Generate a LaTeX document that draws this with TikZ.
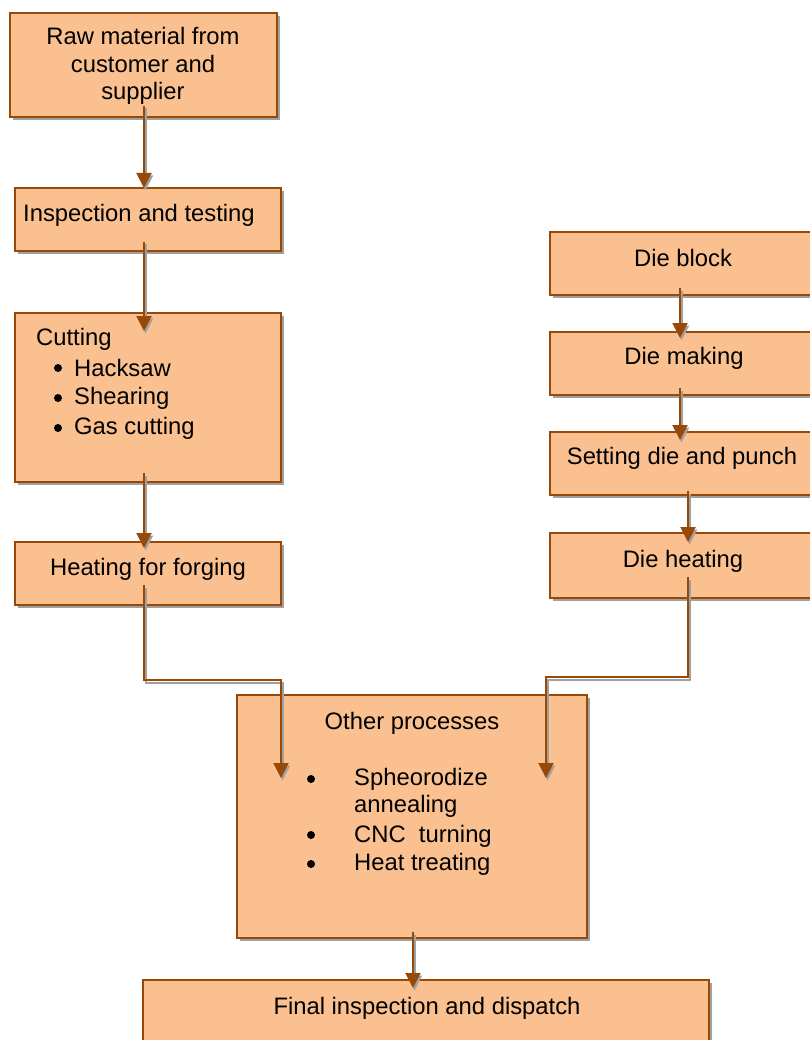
\documentclass[tikz,border=0pt]{standalone}
\usepackage{fontspec}
\setmainfont{Liberation Sans}
\usetikzlibrary{arrows.meta,shadows}
\definecolor{boxfill}{RGB}{250,192,143}
\definecolor{boxline}{RGB}{152,72,7}
\definecolor{shadowgray}{RGB}{160,160,160}
\tikzset{
  txt/.style={font=\fontsize{23.8}{27.4}\selectfont, inner sep=0pt},
  bul/.style={circle, fill=black, minimum size=8pt, inner sep=0pt},
  procbox/.style={draw=boxline, line width=2pt, fill=boxfill,
    drop shadow={shadow xshift=3pt, shadow yshift=-3pt, fill=shadowgray, opacity=1}},
  conn/.style={draw=boxline, line width=2pt,
    -{Triangle[length=15pt,width=15pt]},
    preaction={draw=shadowgray, line width=2pt, transform canvas={shift={(1.5pt,-2.5pt)}}}},
}
\begin{document}
\begin{tikzpicture}[x=1pt,y=-1pt]
\useasboundingbox (0,0) rectangle (809,1040);
% boxes (left column)
\path[procbox] (10,13) rectangle (277,117);
\path[procbox] (15,188) rectangle (281,251);
\path[procbox] (15,313) rectangle (281,482);
\path[procbox] (15,542) rectangle (281,605);
% right column
\path[procbox] (550,232) rectangle (815,295);
\path[procbox] (550,332) rectangle (815,395);
\path[procbox] (550,432) rectangle (815,495);
\path[procbox] (550,533) rectangle (815,598);
% other and final
\path[procbox] (237,695) rectangle (587,938);
\path[procbox] (143,980) rectangle (709,1060);

% texts
\node[txt, align=center] (rawt) at (143,66) {Raw material from\\customer and\\supplier};
\node[txt, anchor=west] (inspt) at (23,215) {Inspection and testing};
\node[txt, anchor=west] (cutt) at (36,339) {Cutting};
\node[bul] (cb1) at (58,368) {};
\node[bul] (cb2) at (58,398) {};
\node[bul] (cb3) at (58,428) {};
\node[txt, anchor=west] (ci1) at (74,368) {Hacksaw};
\node[txt, anchor=west] (ci2) at (74,398) {Shearing};
\node[txt, anchor=west] (ci3) at (74,428) {Gas cutting};
\node[txt] (heatt) at (148,569) {Heating for forging};
\node[txt] (dbt) at (683,258) {Die block};
\node[txt] (dmt) at (684,358) {Die making};
\node[txt] (sdt) at (682,458) {Setting die and punch};
\node[txt] (dht) at (683,561) {Die heating};
\node[txt] (opt) at (412,723) {Other processes};
\node[bul] (ob1) at (311,779) {};
\node[bul] (ob2) at (311,835) {};
\node[bul] (ob3) at (311,864) {};
\node[txt, anchor=west] (oi1) at (354,779) {Spheorodize};
\node[txt, anchor=west] (oi1b) at (354,806) {annealing};
\node[txt, anchor=west] (oi2) at (354,836) {CNC\ \ turning};
\node[txt, anchor=west] (oi3) at (354,864) {Heat treating};
\node[txt] (fint) at (427,1008) {Final inspection and dispatch};

% connector coordinates
\coordinate (a1s) at (144,106);  \coordinate (a1e) at (144,188);
\coordinate (a2s) at (144,242);  \coordinate (a2e) at (144,331);
\coordinate (a3s) at (144,473);  \coordinate (a3e) at (144,548);
\coordinate (a4s) at (144,585);  \coordinate (a4a) at (144,680);
\coordinate (a4b) at (281,680);  \coordinate (a4e) at (281,778);
\coordinate (a5s) at (688,577);  \coordinate (a5a) at (688,677);
\coordinate (a5b) at (546,677);  \coordinate (a5e) at (546,778);
\coordinate (a6s) at (413,932);  \coordinate (a6e) at (413,988);
\coordinate (r1s) at (680,288);  \coordinate (r1e) at (680,338);
\coordinate (r2s) at (680,388);  \coordinate (r2e) at (680,440);
\coordinate (r3s) at (688,491);  \coordinate (r3e) at (688,542);

\draw[conn] (a1s) -- (a1e);
\draw[conn] (a2s) -- (a2e);
\draw[conn] (a3s) -- (a3e);
\draw[conn] (a4s) -- (a4a) -- (a4b) -- (a4e);
\draw[conn] (a5s) -- (a5a) -- (a5b) -- (a5e);
\draw[conn] (a6s) -- (a6e);
\draw[conn] (r1s) -- (r1e);
\draw[conn] (r2s) -- (r2e);
\draw[conn] (r3s) -- (r3e);
\end{tikzpicture}
\end{document}
